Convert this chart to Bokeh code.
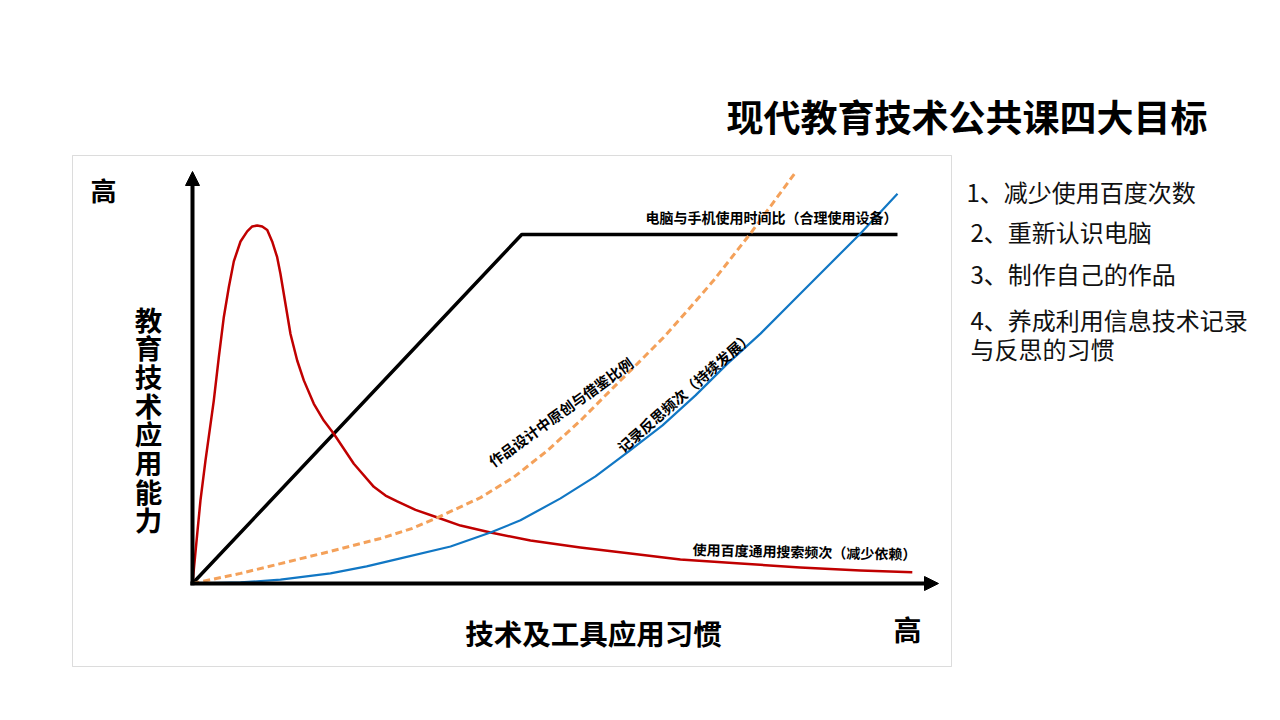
from bokeh.plotting import figure
from bokeh.models import Range1d, Label, Arrow, NormalHead, BoxAnnotation
from bokeh.embed import file_html
from bokeh.resources import INLINE

# ---------------- data (conceptual curves, in "habit" x / "ability" y units) ----------------
black_x = [0, 4.67, 10.0]
black_y = [0, 10.0, 10.0]

red_x = [0, 0.067, 0.113, 0.184, 0.302, 0.373, 0.444, 0.515, 0.586, 0.681, 0.776, 0.847,
         0.918, 0.989, 1.060, 1.130, 1.201, 1.248, 1.319, 1.390, 1.485, 1.579, 1.721,
         1.862, 2.004, 2.288, 2.572, 2.738, 2.904, 3.163, 3.475, 3.801, 4.227, 4.794,
         5.50, 6.213, 6.92, 7.773, 8.62, 9.475, 10.21]
red_y = [0, 1.42, 2.38, 3.52, 5.24, 6.48, 7.63, 8.49, 9.23, 9.80, 10.09, 10.23,
         10.26, 10.23, 10.13, 9.80, 9.35, 8.87, 8.01, 7.15, 6.39, 5.82, 5.15,
         4.67, 4.29, 3.43, 2.77, 2.52, 2.35, 2.11, 1.89, 1.66, 1.46, 1.23,
         1.03, 0.86, 0.69, 0.57, 0.46, 0.37, 0.32]

orange_x = [0, 0.681, 1.248, 1.957, 2.667, 3.120, 3.475, 4.085, 4.553, 5.035, 5.504, 5.972,
            6.312, 6.681, 7.021, 7.390, 7.915, 8.553]
orange_y = [0, 0.29, 0.57, 0.92, 1.29, 1.58, 1.89, 2.46, 3.04, 3.81, 4.67, 5.62,
            6.30, 7.05, 7.82, 8.68, 10.03, 11.78]

blue_x = [0, 0.681, 1.248, 1.957, 2.470, 2.950, 3.660, 4.227, 4.652, 5.220, 5.716, 6.184,
          6.667, 7.135, 7.589, 8.057, 8.624, 9.475, 10.0]
blue_y = [0, 0.03, 0.11, 0.29, 0.49, 0.72, 1.06, 1.46, 1.81, 2.44, 3.07, 3.78,
          4.53, 5.39, 6.30, 7.16, 8.31, 10.03, 11.17]

title_text = "现代教育技术公共课四大目标"
goals = ["1、减少使用百度次数", "2、重新认识电脑", "3、制作自己的作品",
         "4、养成利用信息技术记录", "与反思的习惯"]
y_label = "教育技术应用能力"
x_label = "技术及工具应用习惯"
high = "高"
lbl_black = "电脑与手机使用时间比（合理使用设备）"
lbl_red = "使用百度通用搜索频次（减少依赖）"
lbl_orange = "作品设计中原创与借鉴比例"
lbl_blue = "记录反思频次（持续发展）"

# ---------------- layout helpers (page pixel -> data units) ----------------
X0, Y0, SX, SY = 192.0, 583.0, 70.5, 34.9
def dx(px):
    return (px - X0) / SX
def dy(py):
    return (Y0 - py) / SY

FONT = "Noto Sans CJK SC"

p = figure(width=1280, height=720, output_backend="svg", toolbar_location=None,
           x_range=Range1d(dx(0), dx(1280)), y_range=Range1d(dy(720), dy(0)),
           x_axis_location=None, y_axis_location=None, min_border=0,
           background_fill_color="white", border_fill_color="white")
p.grid.visible = False
p.outline_line_color = None

# chart frame
p.add_layout(BoxAnnotation(left=dx(72), right=dx(951), top=dy(155), bottom=dy(666),
                           fill_alpha=0, line_color="#8c8c8c", line_width=1))

# curves
p.line(black_x, black_y, line_color="black", line_width=3.5)
p.line(red_x, red_y, line_color="#C00000", line_width=2.5, line_join="round")
p.line(orange_x, orange_y, line_color="#F4A15A", line_width=3, line_dash="7 4")
p.line(blue_x, blue_y, line_color="#1177C4", line_width=2.2, line_join="round")

# axes with arrows
p.add_layout(Arrow(x_start=0, y_start=-0.05, x_end=0, y_end=dy(171), line_width=4,
                   line_color="black",
                   end=NormalHead(size=14, fill_color="black", line_color="black")))
p.add_layout(Arrow(x_start=-0.03, y_start=0, x_end=dx(938), y_end=0, line_width=4,
                   line_color="black",
                   end=NormalHead(size=14, fill_color="black", line_color="black")))

def label(px, py, text, size, bold=True, align="center", angle=0.0, color="black"):
    p.add_layout(Label(x=dx(px), y=dy(py), text=text, text_font=FONT,
                       text_font_size=f"{size}px",
                       text_font_style="bold" if bold else "normal",
                       text_align=align, text_baseline="middle", angle=angle,
                       text_color=color))

# title
label(1207, 115, title_text, 37, align="right")

# goals list
goal_pos = [(966, 191), (970, 231), (970, 273), (970, 319), (970, 348)]
for (gx, gy), g in zip(goal_pos, goals):
    label(gx, gy, g, 24, bold=False, align="left", color="#111111")

# axis words
label(103, 189, high, 26)
label(907, 628, high, 28)
label(593, 632, x_label, 28.5)
for i, ch in enumerate(y_label):
    label(148, 318 + i * 28.7, ch, 27.5)

# curve labels
label(897, 216, lbl_black, 14, align="right")
label(804, 551, lbl_red, 14, angle=-0.022)
label(560, 411, lbl_orange, 14.5, angle=0.625)
label(684, 391, lbl_blue, 14.5, angle=0.72)

open("out.html", "w").write(file_html(p, INLINE))
